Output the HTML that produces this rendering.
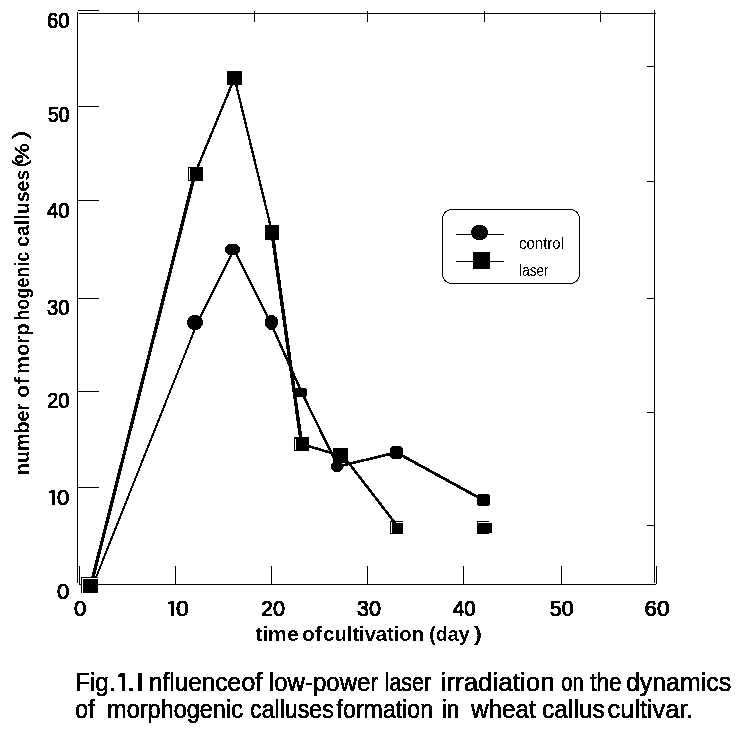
<!DOCTYPE html>
<html><head><meta charset="utf-8">
<style>
html,body{margin:0;padding:0;background:#fff;width:736px;height:730px;overflow:hidden}
svg{display:block;filter:grayscale(1)}
text{font-family:"Liberation Sans",sans-serif;fill:#000}
</style></head>
<body>
<svg width="736" height="730" viewBox="0 0 736 730">
<defs><filter id="bw" filterUnits="userSpaceOnUse" x="0" y="0" width="736" height="730" color-interpolation-filters="sRGB">
<feColorMatrix type="matrix" values="0.333 0.333 0.334 0 0  0.333 0.333 0.334 0 0  0.333 0.333 0.334 0 0  0 0 0 1 0"/>
<feComponentTransfer><feFuncR type="discrete" tableValues="0 1"/><feFuncG type="discrete" tableValues="0 1"/><feFuncB type="discrete" tableValues="0 1"/></feComponentTransfer>
</filter></defs>
<g filter="url(#bw)">
<rect x="0" y="0" width="736" height="730" fill="#fff"/>
<g stroke="#000" stroke-width="1" fill="none" shape-rendering="crispEdges">
  <path d="M77.5 12 V583 M79 13.5 H656 M654.5 10 V583 M79 584.5 H656"/>
  <path d="M78 10.5 H99 M78 106.5 H99 M78 200.5 H99 M78 298.5 H99 M78 391.5 H99 M78 487.5 H99"/>
  <path d="M79.5 566 V584 M175.5 566 V584 M271.5 566 V584 M367.5 566 V584 M463.5 566 V584 M561.5 566 V584 M656.5 566 V584"/>
  <path d="M138.5 11 V22 M254.5 11 V22 M367.5 11 V22 M484.5 11 V22 M600.5 11 V22"/>
  <path d="M647 66.5 H654 M647 181.5 H654 M647 298.5 H654 M647 412.5 H654 M647 525.5 H654"/>
</g>
<g fill="none" stroke="#000" stroke-linecap="round">
  <path stroke-width="2" d="M93 585 L197.5 322.5"/>
  <path stroke-width="2.1" d="M197.5 322.5 L234 249.5 L270.5 322.5"/>
  <path stroke-width="2.4" d="M270.5 322.5 L302 393"/>
  <path stroke-width="2.5" d="M302 393 L338 466.5"/>
  <path stroke-width="2.8" d="M338 466.5 L396.5 452.5 L484 500.5"/>
  <path stroke-width="3.3" d="M91 585 L195 173.5"/>
  <path stroke-width="2.3" d="M195 173.5 L234.5 78 L272 232"/>
  <path stroke-width="3.5" d="M272 232 L301.5 444"/>
  <path stroke-width="2.6" d="M301.5 444 L340 455.5"/>
  <path stroke-width="2.6" d="M343 455.5 L398.5 527.5"/>
</g>
<g fill="#000" shape-rendering="crispEdges">
  <rect x="81" y="577" width="17" height="16"/>
  <rect x="188" y="167" width="15" height="14"/>
  <rect x="227" y="71" width="15" height="14"/>
  <rect x="265" y="225" width="14" height="15"/>
  <rect x="294" y="437" width="15" height="14"/>
  <rect x="333" y="448" width="15" height="15"/>
  <rect x="390" y="521" width="13" height="13"/>
  <rect x="477" y="521" width="12" height="13"/>
  <rect x="489" y="523" width="3" height="10"/>
</g>
<g fill="#fff" shape-rendering="crispEdges">
  <rect x="82" y="578" width="16" height="1"/>
  <rect x="82" y="578" width="1" height="15"/>
  <rect x="189" y="168" width="1" height="12"/>
  <rect x="295" y="439" width="1" height="11"/>
  <rect x="391" y="522" width="1" height="11"/>
  <rect x="396" y="522" width="7" height="1"/>
  <rect x="478" y="522" width="11" height="1"/>
</g>
<g fill="#000">
  <ellipse cx="195" cy="322.5" rx="8" ry="7.6"/>
  <polygon points="229,244 236,244 240,248 240,251 236,255 229,255 225,251 225,248"/>
  <ellipse cx="271.5" cy="322.5" rx="6.7" ry="7.6"/>
  <polygon points="295,388 305,388 307,390 307,395 305,397 295,397 293,395 293,390"/>
  <ellipse cx="337" cy="466.5" rx="6.2" ry="5.7"/>
  <polygon points="393,446 400,446 403,449 403,456 400,459 393,459 390,456 390,449"/>
  <polygon points="479,494 488,494 490,496 490,504 488,506 479,506 477,504 477,496"/>
</g>
<rect x="442.5" y="209.5" width="137" height="74" rx="9" ry="9" fill="none" stroke="#000" stroke-width="1"/>
<path d="M456 234.5 H504 M456 261.5 H504" stroke="#000" stroke-width="1" shape-rendering="crispEdges"/>
<ellipse cx="479.5" cy="232.5" rx="8.6" ry="7.7" fill="#000"/>
<rect x="473" y="252" width="17" height="17" fill="#000" shape-rendering="crispEdges"/>
<path fill="#000" shape-rendering="crispEdges" d="M121 673 H125 V691 H122 V677 H118 V675 L121 673 Z M170 601 H174 V616 H171 V604 H168 V602 H170 Z M51 490 H55 V505 H52 V493 H49 V491 H51 Z"/>

<text transform="translate(47.09,28) scale(0.9130,1)" style="font-size:22px;font-weight:normal;stroke:#000;stroke-width:1.0px">60</text>
<text transform="translate(48.00,122) scale(0.8750,1)" style="font-size:22px;font-weight:normal;stroke:#000;stroke-width:1.0px">50</text>
<text transform="translate(47.00,218) scale(0.9167,1)" style="font-size:22px;font-weight:normal;stroke:#000;stroke-width:1.0px">40</text>
<text transform="translate(47.09,315) scale(0.9130,1)" style="font-size:22px;font-weight:normal;stroke:#000;stroke-width:1.0px">30</text>
<text transform="translate(47.09,408) scale(0.9130,1)" style="font-size:22px;font-weight:normal;stroke:#000;stroke-width:1.0px">20</text>
<text transform="translate(57.00,505) scale(1.0000,1)" style="font-size:22px;font-weight:normal;stroke:#000;stroke-width:1.0px">0</text>
<text transform="translate(57.00,599) scale(1.0000,1)" style="font-size:22px;font-weight:normal;stroke:#000;stroke-width:1.0px">0</text>
<text transform="translate(74.00,616) scale(1.0000,1)" style="font-size:22px;font-weight:normal;stroke:#000;stroke-width:1.0px">0</text>
<text transform="translate(176.00,616) scale(1.0417,1)" style="font-size:22px;font-weight:normal;stroke:#000;stroke-width:1.0px">0</text>
<text transform="translate(261.02,616) scale(0.9783,1)" style="font-size:22px;font-weight:normal;stroke:#000;stroke-width:1.0px">20</text>
<text transform="translate(357.02,616) scale(0.9783,1)" style="font-size:22px;font-weight:normal;stroke:#000;stroke-width:1.0px">30</text>
<text transform="translate(453.00,616) scale(0.9167,1)" style="font-size:22px;font-weight:normal;stroke:#000;stroke-width:1.0px">40</text>
<text transform="translate(550.00,616) scale(0.9583,1)" style="font-size:22px;font-weight:normal;stroke:#000;stroke-width:1.0px">50</text>
<text transform="translate(644.48,616) scale(1.0217,1)" style="font-size:22px;font-weight:normal;stroke:#000;stroke-width:1.0px">60</text>
<text transform="translate(255.20,641) scale(1.0575,1)" style="font-size:20px;font-weight:bold">time</text>
<text transform="translate(301.94,641) scale(1.0556,1)" style="font-size:20px;font-weight:bold">of</text>
<text transform="translate(323.19,641) scale(1.0082,1)" style="font-size:20px;font-weight:bold">cultivation</text>
<text transform="translate(429.22,641) scale(0.9825,1)" style="font-size:20px;font-weight:bold">(day</text>
<text transform="translate(474.00,641) scale(1.2000,1)" style="font-size:20px;font-weight:bold">)</text>
<text transform="translate(29,474.93) rotate(-90) scale(0.9342,1)" style="font-size:21px;font-weight:bold">number</text>
<text transform="translate(29,398.05) rotate(-90) scale(1.0526,1)" style="font-size:21px;font-weight:bold">of</text>
<text transform="translate(29,373.96) rotate(-90) scale(0.9608,1)" style="font-size:21px;font-weight:bold">morp</text>
<text transform="translate(29,320.86) rotate(-90) scale(0.8608,1)" style="font-size:21px;font-weight:bold">hogenic</text>
<text transform="translate(29,246.93) rotate(-90) scale(0.9321,1)" style="font-size:21px;font-weight:bold">calluses</text>
<text transform="translate(27,167.58) rotate(-90) scale(1.0833,1)" style="font-size:21px;font-weight:normal;stroke:#000;stroke-width:0.5px">(</text>
<text transform="translate(29,163.59) rotate(-90) scale(1.0882,1)" style="font-size:21px;font-weight:bold">%</text>
<text transform="translate(27,139.50) rotate(-90) scale(1.2500,1)" style="font-size:21px;font-weight:normal;stroke:#000;stroke-width:0.5px">)</text>
<text transform="translate(519.12,249) scale(0.8776,1)" style="font-size:17px;font-weight:normal">control</text>
<text transform="translate(519.20,276) scale(0.8000,1)" style="font-size:17px;font-weight:normal">laser</text>
<text transform="translate(75.05,691) scale(0.9737,1)" style="font-size:25px;font-weight:normal;stroke:#000;stroke-width:0.55px">Fig.</text>
<text transform="translate(126.33,691) scale(1.3333,1)" style="font-size:25px;font-weight:normal;stroke:#000;stroke-width:0.55px">.</text>
<text transform="translate(136.03,691) scale(1.2333,1)" style="font-size:25px;font-weight:normal;stroke:#000;stroke-width:0.55px">I</text>
<text transform="translate(149.03,691) scale(0.9731,1)" style="font-size:25px;font-weight:normal;stroke:#000;stroke-width:0.55px">nfluence</text>
<text transform="translate(241.19,691) scale(1.0150,1)" style="font-size:25px;font-weight:normal;stroke:#000;stroke-width:0.55px">of</text>
<text transform="translate(268.84,691) scale(0.9619,1)" style="font-size:25px;font-weight:normal;stroke:#000;stroke-width:0.55px">low-power</text>
<text transform="translate(384.64,691) scale(0.8585,1)" style="font-size:25px;font-weight:normal;stroke:#000;stroke-width:0.55px">laser</text>
<text transform="translate(440.56,691) scale(1.0411,1)" style="font-size:25px;font-weight:normal;stroke:#000;stroke-width:0.55px">irradiation</text>
<text transform="translate(561.19,691) scale(0.8077,1)" style="font-size:25px;font-weight:normal;stroke:#000;stroke-width:0.55px">on</text>
<text transform="translate(590.20,691) scale(0.9059,1)" style="font-size:25px;font-weight:normal;stroke:#000;stroke-width:0.55px">the</text>
<text transform="translate(626.00,691) scale(0.9952,1)" style="font-size:25px;font-weight:normal;stroke:#000;stroke-width:0.55px">dynamics</text>
<text transform="translate(75.05,718) scale(0.9500,1)" style="font-size:25px;font-weight:normal;stroke:#000;stroke-width:0.55px">of</text>
<text transform="translate(107.06,718) scale(0.9406,1)" style="font-size:25px;font-weight:normal;stroke:#000;stroke-width:0.55px">morphogenic</text>
<text transform="translate(250.07,718) scale(0.9270,1)" style="font-size:25px;font-weight:normal;stroke:#000;stroke-width:0.55px">calluses</text>
<text transform="translate(336.60,718) scale(0.9262,1)" style="font-size:25px;font-weight:normal;stroke:#000;stroke-width:0.55px">formation</text>
<text transform="translate(441.92,718) scale(0.8824,1)" style="font-size:25px;font-weight:normal;stroke:#000;stroke-width:0.55px">in</text>
<text transform="translate(471.00,718) scale(0.9701,1)" style="font-size:25px;font-weight:normal;stroke:#000;stroke-width:0.55px">wheat</text>
<text transform="translate(542.02,718) scale(0.9839,1)" style="font-size:25px;font-weight:normal;stroke:#000;stroke-width:0.55px">callus</text>
<text transform="translate(607.59,718) scale(1.0110,1)" style="font-size:25px;font-weight:normal;stroke:#000;stroke-width:0.55px">cultivar.</text>
</g>
</svg>
</body></html>
